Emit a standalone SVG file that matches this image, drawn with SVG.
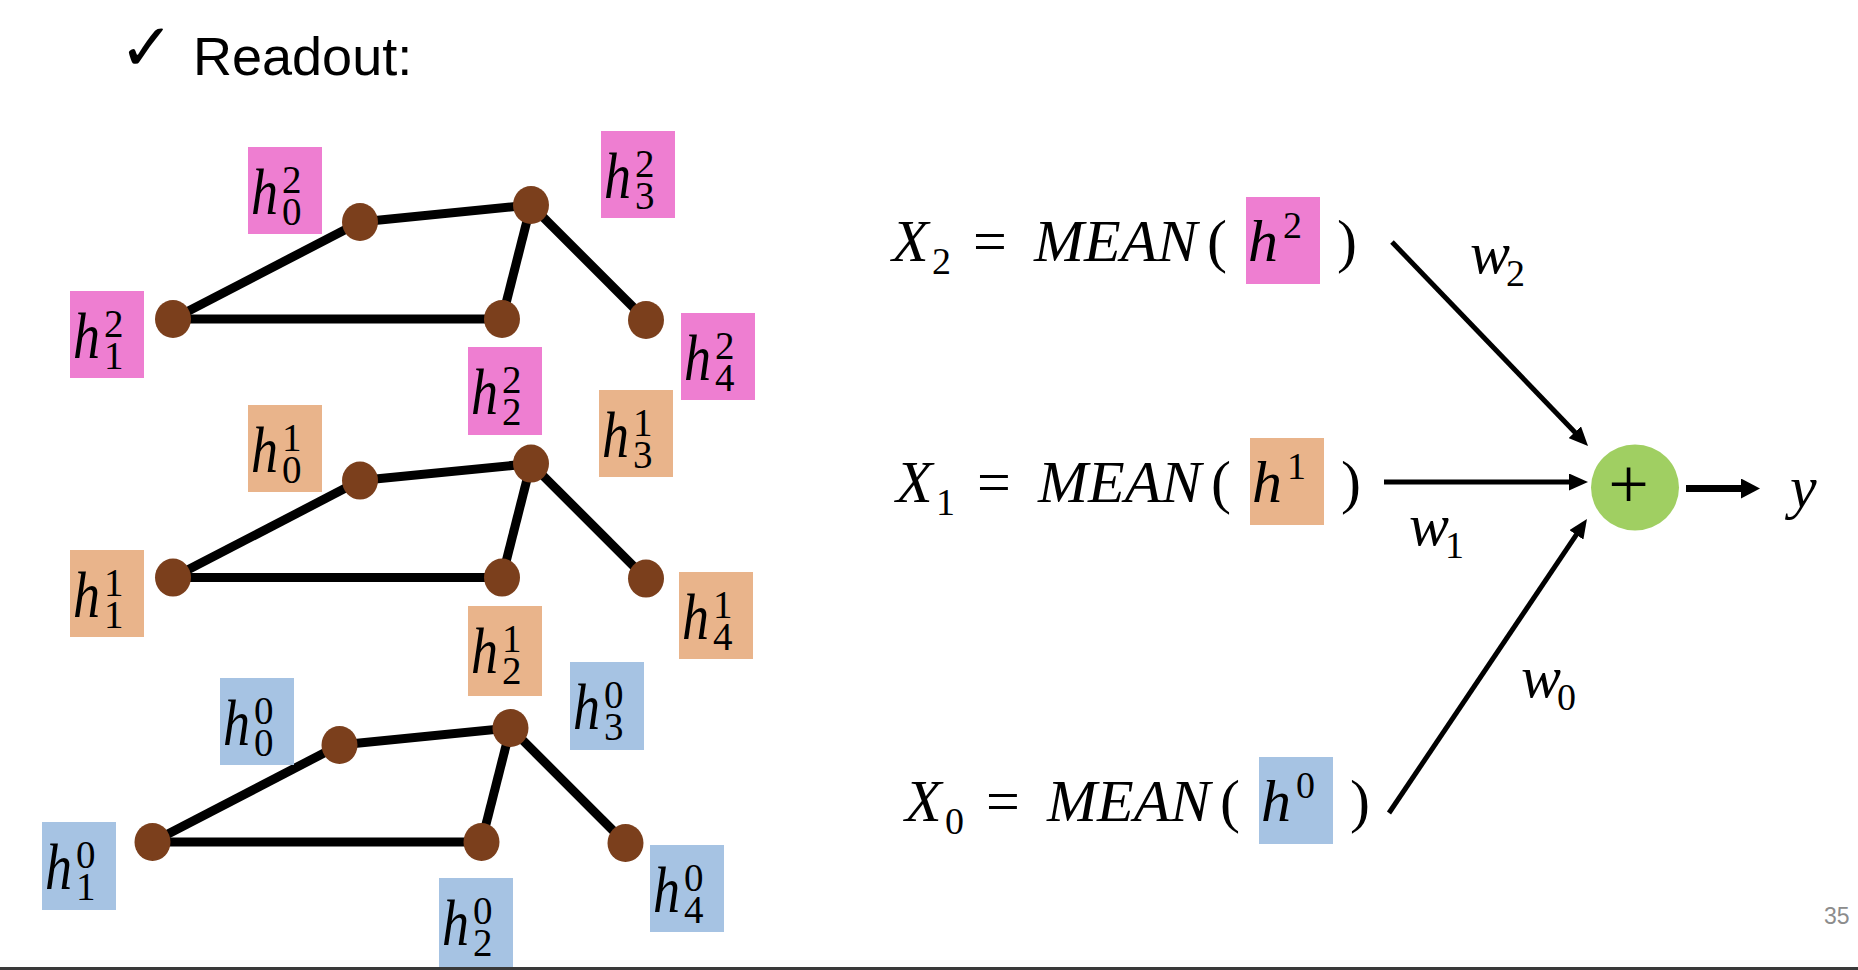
<svg xmlns="http://www.w3.org/2000/svg" width="1858" height="970" viewBox="0 0 1858 970">
<style>
.edge{stroke:#000;stroke-width:9;fill:none}
.node{fill:#7B3F1C}
.pink{fill:#EE7ED1}
.orange{fill:#E9B48B}
.blue{fill:#A6C3E3}
.mi{font-family:"Liberation Serif",serif;font-style:italic;fill:#000}
.mn{font-family:"Liberation Serif",serif;fill:#000}
.lh{font-size:66px}
.d{font-size:39px}
.eq{font-size:60px}
.up{font-style:normal}
.ed{font-style:normal;font-size:38px}
.arr{stroke:#000;stroke-width:5;fill:none}
</style>
<defs>
<marker id="ah" markerUnits="userSpaceOnUse" markerWidth="19" markerHeight="17" refX="8" refY="8.5" orient="auto">
<path d="M0,0 L19,8.5 L0,17 z" fill="#000"/>
</marker>
<marker id="ah2" markerUnits="userSpaceOnUse" markerWidth="19" markerHeight="20" refX="8" refY="10" orient="auto">
<path d="M0,0 L19,10 L0,20 z" fill="#000"/>
</marker>
<g id="gr">
<line class="edge" x1="173" y1="319" x2="360" y2="222"/>
<line class="edge" x1="360" y1="222" x2="531" y2="205"/>
<line class="edge" x1="531" y1="205" x2="502" y2="319"/>
<line class="edge" x1="531" y1="205" x2="646" y2="320"/>
<line class="edge" x1="173" y1="319" x2="502" y2="319"/>
<ellipse class="node" cx="173" cy="319" rx="18" ry="19"/>
<ellipse class="node" cx="360" cy="222" rx="18" ry="19"/>
<ellipse class="node" cx="531" cy="205" rx="18" ry="19"/>
<ellipse class="node" cx="502" cy="319" rx="18" ry="19"/>
<ellipse class="node" cx="646" cy="320" rx="18" ry="19"/>
</g>
</defs>
<rect width="1858" height="970" fill="#fff"/>

<g id="title">
<text x="119" y="70" font-family="DejaVu Sans,sans-serif" font-weight="bold" font-size="66">✓</text>
<text x="193" y="75" font-family="Liberation Sans,Arial,sans-serif" font-size="54">Readout:</text>
</g>

<!-- layer 2 graph -->
<g id="graph2">
<use href="#gr"/>
<g id="h0_2"><rect class="pink" x="248" y="147" width="74" height="87"/><text class="mi lh" transform="translate(251,214) scale(0.82,1)">h</text><text class="mn d" x="282" y="193">2<tspan x="282" y="225">0</tspan></text></g>
<g id="h3_2"><rect class="pink" x="601" y="131" width="74" height="87"/><text class="mi lh" transform="translate(604,198) scale(0.82,1)">h</text><text class="mn d" x="635" y="177">2<tspan x="635" y="209">3</tspan></text></g>
<g id="h1_2"><rect class="pink" x="70" y="291" width="74" height="87"/><text class="mi lh" transform="translate(73,358) scale(0.82,1)">h</text><text class="mn d" x="104" y="337">2<tspan x="104" y="369">1</tspan></text></g>
<g id="h4_2"><rect class="pink" x="681" y="313" width="74" height="87"/><text class="mi lh" transform="translate(684,380) scale(0.82,1)">h</text><text class="mn d" x="715" y="359">2<tspan x="715" y="391">4</tspan></text></g>
<g id="h2_2"><rect class="pink" x="468" y="347" width="74" height="88"/><text class="mi lh" transform="translate(471,414) scale(0.82,1)">h</text><text class="mn d" x="502" y="393">2<tspan x="502" y="425">2</tspan></text></g>
</g>

<!-- layer 1 graph -->
<g id="graph1">
<use href="#gr" transform="translate(0,258.6)"/>
<g id="h0_1"><rect class="orange" x="248" y="405" width="74" height="87"/><text class="mi lh" transform="translate(251,472) scale(0.82,1)">h</text><text class="mn d" x="282" y="451">1<tspan x="282" y="483">0</tspan></text></g>
<g id="h3_1"><rect class="orange" x="599" y="390" width="74" height="87"/><text class="mi lh" transform="translate(602,457) scale(0.82,1)">h</text><text class="mn d" x="633" y="436">1<tspan x="633" y="468">3</tspan></text></g>
<g id="h1_1"><rect class="orange" x="70" y="550" width="74" height="87"/><text class="mi lh" transform="translate(73,617) scale(0.82,1)">h</text><text class="mn d" x="104" y="596">1<tspan x="104" y="628">1</tspan></text></g>
<g id="h4_1"><rect class="orange" x="679" y="572" width="74" height="87"/><text class="mi lh" transform="translate(682,639) scale(0.82,1)">h</text><text class="mn d" x="713" y="618">1<tspan x="713" y="650">4</tspan></text></g>
<g id="h2_1"><rect class="orange" x="468" y="606" width="74" height="90"/><text class="mi lh" transform="translate(471,673) scale(0.82,1)">h</text><text class="mn d" x="502" y="652">1<tspan x="502" y="684">2</tspan></text></g>
</g>

<!-- layer 0 graph -->
<g id="graph0">
<use href="#gr" transform="translate(-20.5,523)"/>
<g id="h0_0"><rect class="blue" x="220" y="678" width="74" height="87"/><text class="mi lh" transform="translate(223,745) scale(0.82,1)">h</text><text class="mn d" x="254" y="724">0<tspan x="254" y="756">0</tspan></text></g>
<g id="h3_0"><rect class="blue" x="570" y="662" width="74" height="88"/><text class="mi lh" transform="translate(573,729) scale(0.82,1)">h</text><text class="mn d" x="604" y="708">0<tspan x="604" y="740">3</tspan></text></g>
<g id="h1_0"><rect class="blue" x="42" y="822" width="74" height="88"/><text class="mi lh" transform="translate(45,889) scale(0.82,1)">h</text><text class="mn d" x="76" y="868">0<tspan x="76" y="900">1</tspan></text></g>
<g id="h4_0"><rect class="blue" x="650" y="845" width="74" height="87"/><text class="mi lh" transform="translate(653,912) scale(0.82,1)">h</text><text class="mn d" x="684" y="891">0<tspan x="684" y="923">4</tspan></text></g>
<g id="h2_0"><rect class="blue" x="439" y="878" width="74" height="89"/><text class="mi lh" transform="translate(442,945) scale(0.82,1)">h</text><text class="mn d" x="473" y="924">0<tspan x="473" y="956">2</tspan></text></g>
</g>

<!-- equations -->
<g id="eqX2">
<rect class="pink" x="1246" y="197" width="74" height="87"/>
<text class="mi eq" x="892" y="261">X<tspan class="ed" x="932" y="274">2</tspan><tspan class="up" x="973" y="261">=</tspan><tspan x="1034">MEAN</tspan><tspan class="up" x="1207">(</tspan><tspan x="1248">h</tspan><tspan class="ed" x="1283" y="238">2</tspan><tspan class="up" x="1337" y="261">)</tspan></text>
</g>
<g id="eqX1" transform="translate(4,241)">
<rect class="orange" x="1246" y="197" width="74" height="87"/>
<text class="mi eq" x="892" y="261">X<tspan class="ed" x="932" y="274">1</tspan><tspan class="up" x="973" y="261">=</tspan><tspan x="1034">MEAN</tspan><tspan class="up" x="1207">(</tspan><tspan x="1248">h</tspan><tspan class="ed" x="1283" y="238">1</tspan><tspan class="up" x="1337" y="261">)</tspan></text>
</g>
<g id="eqX0" transform="translate(13,560)">
<rect class="blue" x="1246" y="197" width="74" height="87"/>
<text class="mi eq" x="892" y="261">X<tspan class="ed" x="932" y="274">0</tspan><tspan class="up" x="973" y="261">=</tspan><tspan x="1034">MEAN</tspan><tspan class="up" x="1207">(</tspan><tspan x="1248">h</tspan><tspan class="ed" x="1283" y="238">0</tspan><tspan class="up" x="1337" y="261">)</tspan></text>
</g>

<!-- connectors -->
<g id="connectors">
<line class="arr" x1="1392" y1="242" x2="1580.4" y2="438" marker-end="url(#ah)"/>
<line class="arr" x1="1384" y1="482" x2="1577" y2="482" marker-end="url(#ah)"/>
<line class="arr" x1="1389" y1="813" x2="1580.8" y2="528.2" marker-end="url(#ah)"/>
<line x1="1686" y1="488.5" x2="1749" y2="488.5" stroke="#000" stroke-width="7" marker-end="url(#ah2)"/>
</g>

<g id="weights">
<text class="mi eq" x="1470" y="273" font-size="64">w<tspan class="ed" x="1506" y="286" font-size="40">2</tspan></text>
<text class="mi eq" x="1409" y="545" font-size="64">w<tspan class="ed" x="1445" y="558" font-size="40">1</tspan></text>
<text class="mi eq" x="1521" y="697" font-size="64">w<tspan class="ed" x="1557" y="710" font-size="40">0</tspan></text>
</g>

<g id="sum">
<ellipse cx="1635" cy="487.5" rx="44" ry="43" fill="#A0CF62"/>
<text x="1628.5" y="508" text-anchor="middle" font-family="Liberation Serif,serif" font-size="72">+</text>
</g>

<g id="output">
<text class="mi eq" x="1790" y="507">y</text>
</g>

<text x="1824" y="924" font-family="Liberation Sans,Arial,sans-serif" font-size="23" fill="#8c8c8c">35</text>
<rect x="0" y="967" width="1858" height="3" fill="#3a3a3a"/>
</svg>
